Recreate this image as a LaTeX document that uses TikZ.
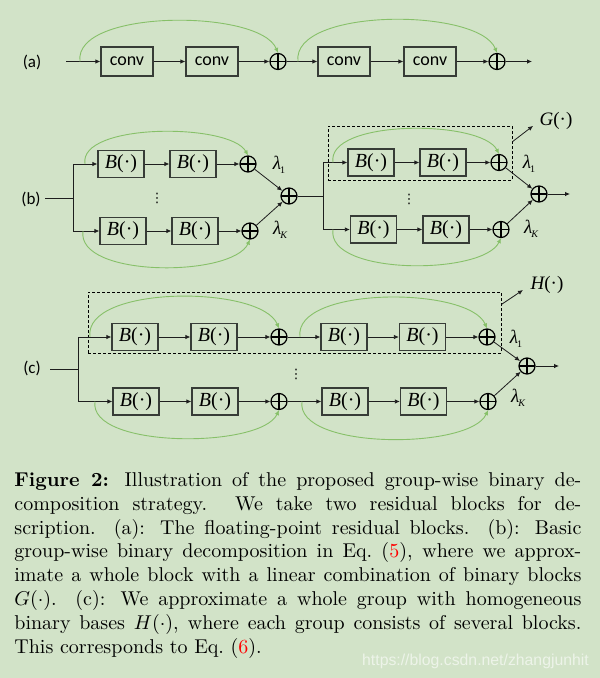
\documentclass[tikz,border=0pt]{standalone}
\usepackage{fontspec}
\usetikzlibrary{arrows.meta}
\newfontfamily\tnr{Liberation Serif}
\newfontfamily\calib{Carlito}
\newfontfamily\wmfont{Liberation Sans}
\newfontfamily\djv{DejaVu Sans}
\definecolor{bgc}{RGB}{210,227,200}
\definecolor{skipc}{RGB}{135,192,105}
\definecolor{boxc}{RGB}{55,60,55}
\definecolor{linec}{RGB}{30,30,30}
\newcommand\Bdot{{\itshape B}(·)}
\newcommand\lamone{{\itshape λ}\kern-1pt\raisebox{-3.5pt}{\fontsize{10}{10}\selectfont 1}}
\newcommand\lamK{{\itshape λ}\kern-1pt\raisebox{-3.5pt}{\fontsize{10}{10}\selectfont\itshape K}}
\newcommand\capW{283.5pt}
\tikzset{
  convbox/.style={draw=boxc, line width=1.2pt, minimum width=52pt, minimum height=29pt, inner sep=0pt, font=\calib\fontsize{18}{18}\selectfont},
  bbox/.style={draw=boxc, line width=1.2pt, minimum width=46pt, minimum height=27pt, inner sep=0pt, font=\tnr\fontsize{20}{20}\selectfont},
  sumnode/.style={circle, draw=black, line width=1.2pt, minimum size=16pt, inner sep=0pt,
    path picture={\draw[line width=1.2pt] (path picture bounding box.north) -- (path picture bounding box.south)
      (path picture bounding box.west) -- (path picture bounding box.east);}},
  arr/.style={-{Latex[length=5pt,width=4.5pt]}, line width=0.8pt, draw=linec},
  plainln/.style={line width=0.8pt, draw=linec},
  skiparc/.style={-{Latex[length=5pt,width=4.5pt]}, line width=0.9pt, draw=skipc},
  dashbox/.style={draw=black, line width=1pt, dash pattern=on 3pt off 2pt, inner sep=0pt},
  lbl/.style={font=\calib\fontsize{17}{17}\selectfont},
  lamlbl/.style={font=\tnr\fontsize{19}{19}\selectfont, inner sep=0pt},
  funlbl/.style={font=\tnr\fontsize{19}{19}\selectfont, inner sep=0pt},
  dotlbl/.style={inner sep=0pt, font=\djv\fontsize{13}{13}\selectfont},
}
\begin{document}
\begin{tikzpicture}[x=1pt,y=-1pt]
\fill[bgc] (0,0) rectangle (600,678);
\useasboundingbox (0,0) rectangle (600,678);

% ---------------- (a)
\node[lbl] (la) at (32,62) {(a)};
\coordinate (ain) at (66,61.5);
\coordinate (as1) at (80,61.5);
\node[convbox] (a1) at (127,61.5) {conv};
\node[convbox] (a2) at (212,61.5) {conv};
\node[sumnode] (ap1) at (278,61.5) {};
\coordinate (as2) at (298,61.5);
\node[convbox] (a3) at (344,61.5) {conv};
\node[convbox] (a4) at (430,61.5) {conv};
\node[sumnode] (ap2) at (497,61.5) {};
\coordinate (aout) at (532,61.5);
\draw[arr] (ain) -- (a1);
\draw[arr] (a1) -- (a2);
\draw[arr] (a2) -- (ap1);
\draw[arr] (ap1) -- (a3);
\draw[arr] (a3) -- (a4);
\draw[arr] (a4) -- (ap2);
\draw[arr] (ap2) -- (aout);
\draw[skiparc] (as1) .. controls (73,8.8) and (260,8.8) .. (ap1.north);
\draw[skiparc] (as2) .. controls (291,7.5) and (479,7.5) .. (ap2.north);

% ---------------- (b)
\node[lbl] (lb) at (31,199) {(b)};
\coordinate (bin) at (45,198);
\coordinate (bs) at (73,198);
\coordinate (bsa) at (85,164);
\coordinate (bsb) at (83,231);
\node[bbox] (b1) at (121,164) {\Bdot};
\node[bbox] (b2) at (193,164) {\Bdot};
\node[sumnode] (bp1) at (248,164) {};
\node[bbox] (b3) at (123,231) {\Bdot};
\node[bbox] (b4) at (195,231) {\Bdot};
\node[sumnode] (bp2) at (250,231) {};
\node[sumnode] (bP) at (289,196) {};
\node[lamlbl] (bl1) at (279,165) {\lamone};
\node[lamlbl] (bl2) at (280,230) {\lamK};
\node[dotlbl] (bd1) at (157,198) {⋮};
\draw[plainln] (bin) -- (bs);
\draw[arr] (bs) |- (b1);
\draw[arr] (bs) |- (b3);
\draw[arr] (b1) -- (b2);
\draw[arr] (b2) -- (bp1);
\draw[arr] (b3) -- (b4);
\draw[arr] (b4) -- (bp2);
\draw[arr] (bp1) -- (bP);
\draw[arr] (bp2) -- (bP);
\draw[skiparc] (bsa) .. controls (78,122.7) and (230,122.7) .. (bp1.north);
\draw[skiparc] (bsb) .. controls (76,277.7) and (232,277.7) .. (bp2.south);

\coordinate (bs2) at (323,196);
\coordinate (bsc) at (333,162.5);
\coordinate (bsd) at (333,229.5);
\node[bbox] (b5) at (371,162.5) {\Bdot};
\node[bbox] (b6) at (443,162.5) {\Bdot};
\node[sumnode] (bp3) at (499,162.5) {};
\node[bbox] (b7) at (373.5,229.5) {\Bdot};
\node[bbox] (b8) at (446,229.5) {\Bdot};
\node[sumnode] (bp4) at (501,229.5) {};
\node[sumnode] (bQ) at (539,194) {};
\coordinate (bout) at (570,194);
\node[lamlbl] (bl3) at (529,164) {\lamone};
\node[lamlbl] (bl4) at (531,229) {\lamK};
\node[dotlbl] (bd2) at (409,199) {⋮};
\node[dashbox, minimum width=184pt, minimum height=54pt] (gbox) at (420,153) {};
\node[funlbl] (G) at (556,121) {{\itshape G}(·)};
\draw[plainln] (bP) -- (bs2);
\draw[arr] (bs2) |- (b5);
\draw[arr] (bs2) |- (b7);
\draw[arr] (b5) -- (b6);
\draw[arr] (b6) -- (bp3);
\draw[arr] (b7) -- (b8);
\draw[arr] (b8) -- (bp4);
\draw[arr] (bp3) -- (bQ);
\draw[arr] (bp4) -- (bQ);
\draw[arr] (bQ) -- (bout);
\draw[arr, shorten >=8pt] (gbox.7) -- (G.west);
\draw[skiparc] (bsc) .. controls (326,119.2) and (481,119.2) .. (bp3.north);
\draw[skiparc] (bsd) .. controls (326,275.5) and (483,275.5) .. (bp4.south);

% ---------------- (c)
\node[lbl] (lc) at (32,368) {(c)};
\coordinate (cin) at (50,369);
\coordinate (cs) at (78,369);
\coordinate (csa) at (90,337);
\coordinate (csb) at (300,337);
\coordinate (csc) at (95,401.5);
\coordinate (csd) at (302,401.5);
\node[dashbox, minimum width=413pt, minimum height=61pt] (hbox) at (294.5,322.5) {};
\node[bbox] (c1) at (135,337) {\Bdot};
\node[bbox] (c2) at (214,337) {\Bdot};
\node[sumnode] (cp1) at (279,337) {};
\node[bbox] (c3) at (344,337) {\Bdot};
\node[bbox] (c4) at (422.5,337) {\Bdot};
\node[sumnode] (cp2) at (487,337) {};
\node[bbox] (c5) at (136,401.5) {\Bdot};
\node[bbox] (c6) at (215,401.5) {\Bdot};
\node[sumnode] (cp3) at (279,401.5) {};
\node[bbox] (c7) at (345,401.5) {\Bdot};
\node[bbox] (c8) at (423.5,401.5) {\Bdot};
\node[sumnode] (cp4) at (488,401.5) {};
\node[sumnode] (cR) at (527,366) {};
\coordinate (cout) at (559,366);
\node[lamlbl] (cl1) at (516,339) {\lamone};
\node[lamlbl] (cl2) at (518,398) {\lamK};
\node[dotlbl] (cd) at (296,374) {⋮};
\node[funlbl] (H) at (547,285) {{\itshape H}(·)};
\draw[plainln] (cin) -- (cs);
\draw[arr] (cs) |- (c1);
\draw[arr] (cs) |- (c5);
\draw[arr] (c1) -- (c2);
\draw[arr] (c2) -- (cp1);
\draw[arr] (cp1) -- (c3);
\draw[arr] (c3) -- (c4);
\draw[arr] (c4) -- (cp2);
\draw[arr] (c5) -- (c6);
\draw[arr] (c6) -- (cp3);
\draw[arr] (cp3) -- (c7);
\draw[arr] (c7) -- (c8);
\draw[arr] (c8) -- (cp4);
\draw[arr] (cp2) -- (cR);
\draw[arr] (cp4) -- (cR);
\draw[arr] (cR) -- (cout);
\draw[arr, shorten >=9pt] (hbox.5) -- (H.west);
\draw[skiparc] (csa) .. controls (83,284.8) and (261,284.8) .. (cp1.north);
\draw[skiparc] (csb) .. controls (293,286) and (469,286) .. (cp2.north);
\draw[skiparc] (csc) .. controls (88,448.8) and (261,448.8) .. (cp3.south);
\draw[skiparc] (csd) .. controls (295,450) and (470,450) .. (cp4.south);

% ---------------- caption
\node[anchor=base west, inner sep=0pt, scale=2.0] (cap) at (14,486.7) {%
  \fontsize{10}{11.88}\selectfont
  \vtop{\hsize=\capW \baselineskip=11.88pt
    \hbox to\hsize{\textbf{Figure 2:} Illustration of the proposed group-wise binary de-}
    \hbox to\hsize{composition strategy. We take two residual blocks for de-}
    \hbox to\hsize{scription. (a): The floating-point residual blocks. (b): Basic}
    \hbox to\hsize{group-wise binary decomposition in Eq.~(\textcolor{red}{5}), where we approx-}
    \hbox to\hsize{imate a whole block with a linear combination of binary blocks}
    \hbox to\hsize{$G(\cdot)$. (c): We approximate a whole group with homogeneous}
    \hbox to\hsize{binary bases $H(\cdot)$, where each group consists of several blocks.}
    \hbox{This corresponds to Eq.~(\textcolor{red}{6}).}}};

\node[anchor=base west, inner sep=0pt, font=\wmfont\fontsize{15.8}{16}\selectfont, text=white, text opacity=0.6] (wm) at (362,665) {https://blog.csdn.net/zhangjunhit};
\end{tikzpicture}
\end{document}
